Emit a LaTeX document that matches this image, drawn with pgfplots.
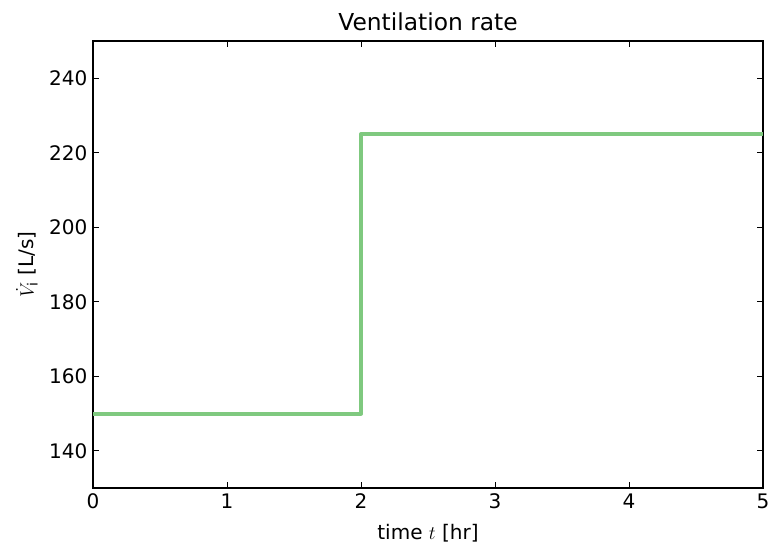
\documentclass[border=0pt]{standalone}
\usepackage{fontspec}
\setmainfont{DejaVu Sans}
\usepackage{pgfplots}
\pgfplotsset{compat=1.18}
\definecolor{vgreen}{HTML}{7FC97F}

\begin{document}
\fontsize{12.5}{15}\selectfont
\begin{tikzpicture}
\begin{axis}[
    scale only axis,
    width=502pt, height=335pt,
    xmin=0, xmax=5, ymin=130, ymax=250,
    xtick={0,1,2,3,4,5},
    ytick={140,160,180,200,220,240},
    tick align=inside,
    major tick length=4.5pt,
    tick style={black, line width=0.6pt},
    axis line style={line width=1pt},
    /pgf/number format/assume math mode=true,
    ticklabel style={font=\fontsize{15}{17}\selectfont},
    title={Ventilation rate},
    title style={font=\fontsize{17.5}{20}\selectfont, yshift=-3pt},
    xlabel={time $t$ [hr]},
    ylabel={$\dot{V}_{\mathrm{i}}$ [L/s]},
    every axis x label/.append style={font=\fontsize{15}{17}\selectfont, yshift=-3pt},
    every axis y label/.append style={font=\fontsize{15}{17}\selectfont, yshift=0pt},
]
\addplot[vgreen, line width=3pt, line join=round] coordinates {
(0,150) (2,150) (2,225) (5,225)
};
\end{axis}
\pgfresetboundingbox
\useasboundingbox (-69.75pt,-45pt) rectangle (507.25pt,365.75pt);
\end{tikzpicture}
\end{document}
